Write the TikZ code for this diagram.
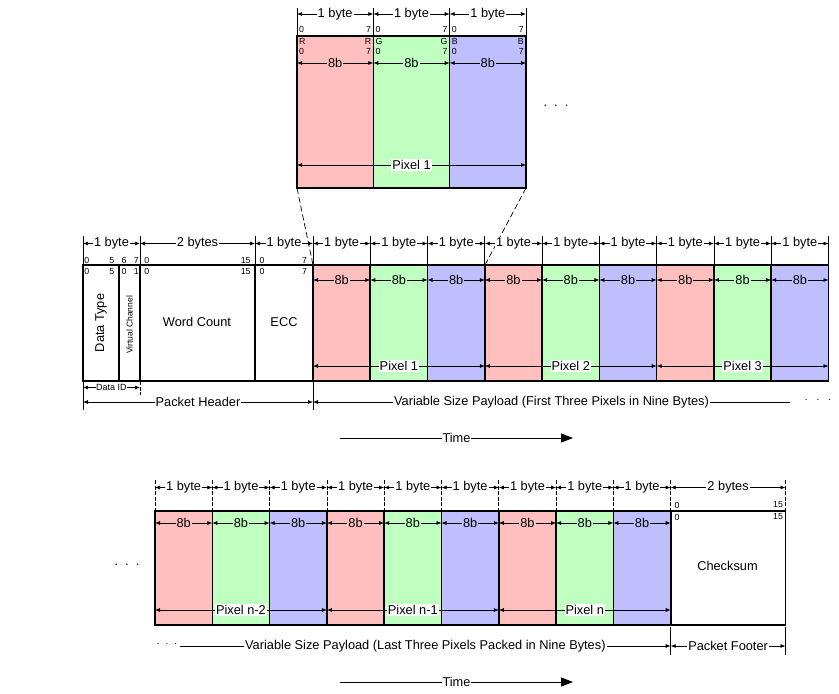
\documentclass[tikz,border=0pt]{standalone}
\usepackage{fontspec}
\setmainfont{Liberation Sans}
\usetikzlibrary{arrows.meta}
\definecolor{pr}{RGB}{255,191,191}
\definecolor{pg}{RGB}{191,255,191}
\definecolor{pb}{RGB}{191,191,255}
\tikzset{
  boxline/.style={line width=1.6pt},
  dim/.style={line width=0.7pt,{Latex[length=5pt,width=4pt]}-{Latex[length=5pt,width=4pt]}},
  dimL/.style={line width=0.7pt,{Latex[length=5pt,width=4pt]}-},
  dimR/.style={line width=0.7pt,-{Latex[length=5pt,width=4pt]}},
  tickline/.style={line width=0.7pt},
  dtick/.style={line width=0.7pt,dash pattern=on 4pt off 1.5pt},
  zoomline/.style={line width=0.7pt,dash pattern=on 6pt off 3pt},
  lbl/.style={font=\fontsize{12.8}{14}\selectfont,inner sep=1pt},
  bit/.style={font=\fontsize{8.8}{10}\selectfont,inner sep=0pt},
  idlbl/.style={font=\fontsize{9}{10}\selectfont,inner sep=0.5pt},
  dots/.style={font=\fontsize{13}{15}\selectfont,inner sep=0pt},
  timearrow/.style={line width=0.9pt,-{Triangle[length=12pt,width=9pt]}},
}
\begin{document}
\begin{tikzpicture}[x=1pt,y=-1pt]
\useasboundingbox (0,0) rectangle (839,694);
% ================= TOP (zoom) =================
\def\tw{76.33}
\foreach \i/\c/\L in {0/pr/R,1/pg/G,2/pb/B}{
  \pgfmathsetmacro{\xa}{297+\i*\tw}
  \pgfmathsetmacro{\xb}{297+(\i+1)*\tw}
  \fill[\c] (\xa,36) rectangle (\xb,188);
  \coordinate (ta\i) at (\xa,14); \coordinate (tb\i) at (\xb,14);
  \draw[dim] (ta\i) -- (tb\i) node[midway,lbl,fill=white] (tbyte\i) {1 byte};
  \coordinate (tc\i) at (\xa,63); \coordinate (td\i) at (\xb,63);
  \draw[dim] (tc\i) -- (td\i) node[midway,lbl,fill=\c] (teb\i) {8b};
  \node[bit,anchor=west] (tz\i) at (\xa+2,29.5) {0};
  \node[bit,anchor=east] (ts\i) at (\xb-2,29.5) {7};
  \node[bit,anchor=west] (tl\i) at (\xa+2,41.5) {\L};
  \node[bit,anchor=east] (tr\i) at (\xb-2,41.5) {\L};
  \node[bit,anchor=west] (tlz\i) at (\xa+2,51) {0};
  \node[bit,anchor=east] (trs\i) at (\xb-2,51) {7};
}
\foreach \i in {0,1,2,3}{
  \pgfmathsetmacro{\x}{297+\i*\tw}
  \coordinate (tt\i) at (\x,8); \coordinate (tB\i) at (\x,36);
  \draw[tickline] (tt\i) -- (tB\i);
}
\coordinate (tbl) at (297,188); \coordinate (tbr) at (526,188);
\draw[boxline] (297,36) rectangle (526,188);
\draw[boxline] (373.33,36) -- (373.33,188);
\draw[boxline] (449.67,36) -- (449.67,188);
\coordinate (tp0) at (297,165); \coordinate (tp1) at (526,165);
\draw[dim] (tp0) -- (tp1) node[midway,lbl,fill=white] (tpix) {Pixel 1};
\node[dots] (tdots) at (556,106) {.\hspace{7pt}.\hspace{7pt}.};
% zoom lines
\coordinate (zl) at (313,265); \coordinate (zr) at (485,265);
\draw[zoomline] (tbl) -- (zl);
\draw[zoomline] (tbr) -- (zr);
% ================= MIDDLE =================
\def\mw{57.28}
\foreach \i/\c in {0/pr,1/pg,2/pb,3/pr,4/pg,5/pb,6/pr,7/pg,8/pb}{
  \pgfmathsetmacro{\xa}{313+\i*\mw}
  \pgfmathsetmacro{\xb}{313+(\i+1)*\mw}
  \fill[\c] (\xa,265) rectangle (\xb,381);
  \coordinate (ma\i) at (\xa,243.5); \coordinate (mb\i) at (\xb,243.5);
  \draw[dim] (ma\i) -- (mb\i) node[midway,lbl,fill=white] (mbyte\i) {1 byte};
  \coordinate (mc\i) at (\xa,280); \coordinate (md\i) at (\xb,280);
  \draw[dim] (mc\i) -- (md\i) node[midway,lbl,fill=\c] (meb\i) {8b};
  \coordinate (mt\i) at (\xb,236); \coordinate (mu\i) at (\xb,265);
  \draw[tickline] (mt\i) -- (mu\i);
}
% header ticks and arrows
\foreach \n/\x in {h0/83,h1/140,h2/255,h3/313}{
  \coordinate (\n t) at (\x,236); \coordinate (\n u) at (\x,265);
  \coordinate (\n a) at (\x,243.5);
  \draw[tickline] (\n t) -- (\n u);
}
\draw[dim] (h0a) -- (h1a) node[midway,lbl,fill=white] (hb1) {1 byte};
\draw[dim] (h1a) -- (h2a) node[midway,lbl,fill=white] (hb2) {2 bytes};
\draw[dim] (h2a) -- (h3a) node[midway,lbl,fill=white] (hb3) {1 byte};
% box
\draw[boxline] (83,265) rectangle (828.5,381);
\foreach \x in {119,140,255,313}{ \draw[boxline] (\x,265) -- (\x,381); }
\foreach \i in {1,...,8}{ \draw[boxline] ({313+\i*\mw},265) -- ({313+\i*\mw},381); }
% bit labels
\foreach \x/\t/\u in {86.7/0/0,111.7/5/5,124/6/0,136.2/7/1,146.7/0/0,245.7/15/15,262/0/0,304.5/7/7}{
  \node[bit] at (\x,260.5) {\t};
  \node[bit] at (\x,271.5) {\u};
}
\node[lbl,rotate=90] (dtype) at (101,323) {Data Type};
\node[font=\fontsize{8.5}{10}\selectfont,rotate=90,inner sep=0pt] (vc) at (129.5,325) {Virtual Channel};
\node[lbl] (wc) at (197,322) {Word Count};
\node[lbl] (ecc) at (284,322) {ECC};
% pixel arrows
\foreach \i/\t in {0/Pixel 1,1/Pixel 2,2/Pixel 3}{
  \pgfmathsetmacro{\xa}{313+3*\i*\mw}
  \pgfmathsetmacro{\xb}{313+3*(\i+1)*\mw}
  \coordinate (mp\i) at (\xa,366); \coordinate (mq\i) at (\xb,366);
  \draw[dim] (mp\i) -- (mq\i) node[midway,lbl,fill=white] (mpix\i) {\t};
}
% below header
\coordinate (b0t) at (83,381); \coordinate (b0b) at (83,410);
\coordinate (b1t) at (140,381); \coordinate (b1b) at (140,395);
\coordinate (b3t) at (313,381); \coordinate (b3b) at (313,410);
\draw[tickline] (b0t) -- (b0b);
\draw[dtick] (b1t) -- (b1b);
\draw[tickline] (b3t) -- (b3b);
\coordinate (id0) at (83,387.5); \coordinate (id1) at (140,387.5);
\draw[dim] (id0) -- (id1) node[midway,idlbl,fill=white] (dataid) {Data ID};
\coordinate (ph0) at (83,402); \coordinate (ph1) at (313,402);
\draw[dim] (ph0) -- (ph1) node[midway,lbl,fill=white] (phdr) {Packet Header};
\coordinate (vp1) at (790,402);
\draw[dimL] (ph1) -- (vp1) node[midway,lbl,fill=white] (vpay) {Variable Size Payload (First Three Pixels in Nine Bytes)};
\node[font=\fontsize{10}{12}\selectfont,inner sep=0pt] (mdots) at (818,400) {.\hspace{9pt}.\hspace{9pt}.};
% time
\coordinate (t1a) at (340,438); \coordinate (t1b) at (573,438);
\draw[timearrow] (t1a) -- (t1b) node[midway,lbl,fill=white] (time1) {Time};
% ================= BOTTOM =================
\def\bw{57.3}
\foreach \i/\c in {0/pr,1/pg,2/pb,3/pr,4/pg,5/pb,6/pr,7/pg,8/pb}{
  \pgfmathsetmacro{\xa}{155+\i*\bw}
  \pgfmathsetmacro{\xb}{155+(\i+1)*\bw}
  \fill[\c] (\xa,511) rectangle (\xb,625);
  \coordinate (ba\i) at (\xa,487.5); \coordinate (bb\i) at (\xb,487.5);
  \draw[dim] (ba\i) -- (bb\i) node[midway,lbl,fill=white] (bbyte\i) {1 byte};
  \coordinate (bc\i) at (\xa,523); \coordinate (bd\i) at (\xb,523);
  \draw[dim] (bc\i) -- (bd\i) node[midway,lbl,fill=\c] (beb\i) {8b};
}
\foreach \i in {0,...,9}{
  \pgfmathsetmacro{\x}{155+\i*\bw}
  \coordinate (bt\i) at (\x,480); \coordinate (bu\i) at (\x,511);
  \draw[dtick] (bt\i) -- (bu\i);
}
\coordinate (ct) at (785.5,480); \coordinate (cu) at (785.5,511);
\draw[dtick] (ct) -- (cu);
\coordinate (ca0) at (670.7,487.5); \coordinate (ca1) at (785.5,487.5);
\draw[dim] (ca0) -- (ca1) node[midway,lbl,fill=white] (cbytes) {2 bytes};
\draw[boxline] (155,511) rectangle (785.5,625);
\foreach \i in {1,...,9}{ \draw[boxline] ({155+\i*\bw},511) -- ({155+\i*\bw},625); }
\node[bit] at (677,505) {0};
\node[bit] at (778,505) {15};
\node[bit] at (677,517) {0};
\node[bit] at (778,517) {15};
\node[lbl] (chk) at (727.5,566) {Checksum};
\node[dots] (bdots) at (127,565) {.\hspace{7pt}.\hspace{7pt}.};
\foreach \i/\t in {0/Pixel n-2,1/Pixel n-1,2/Pixel n}{
  \pgfmathsetmacro{\xa}{155+3*\i*\bw}
  \pgfmathsetmacro{\xb}{155+3*(\i+1)*\bw}
  \coordinate (bp\i) at (\xa,610); \coordinate (bq\i) at (\xb,610);
  \draw[dim] (bp\i) -- (bq\i) node[midway,lbl,fill=white] (bpix\i) {\t};
}
\coordinate (f0t) at (670.7,627); \coordinate (f0b) at (670.7,655);
\coordinate (f1t) at (785.5,627); \coordinate (f1b) at (785.5,655);
\draw[tickline] (f0t) -- (f0b);
\draw[tickline] (f1t) -- (f1b);
\coordinate (lp0) at (180,646); \coordinate (lp1) at (670.7,646);
\coordinate (pf1) at (785.5,646);
\draw[dimR] (lp0) -- (lp1) node[midway,lbl,fill=white] (lpay) {Variable Size Payload (Last Three Pixels Packed in Nine Bytes)};
\draw[dim] (lp1) -- (pf1) node[midway,lbl,fill=white] (pfoot) {Packet Footer};
\node[font=\fontsize{10}{12}\selectfont,inner sep=0pt] (ldots) at (167,644) {.\hspace{6pt}.\hspace{6pt}.};
\coordinate (t2a) at (340,682); \coordinate (t2b) at (573,682);
\draw[timearrow] (t2a) -- (t2b) node[midway,lbl,fill=white] (time2) {Time};
\end{tikzpicture}
\end{document}
